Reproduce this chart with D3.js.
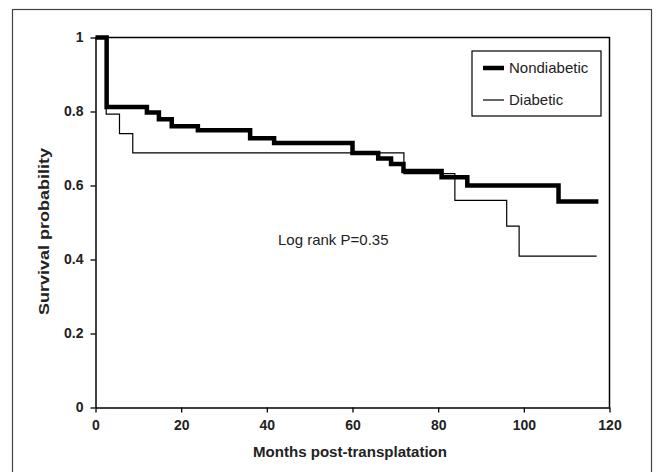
<!DOCTYPE html>
<html>
<head>
<meta charset="utf-8">
<script src="https://cdn.jsdelivr.net/npm/d3@7"></script>
<style>
  body { margin: 0; background: #fff; }
  text { font-family: "Liberation Sans", Arial, sans-serif; fill: #222; }
</style>
</head>
<body>
<script>
var w = 658;
var h = 472;

// Kaplan-Meier steps (months, survival)
var nondiabeticTimes = [0, 2.6, 12, 14.8, 17.8, 23.9, 36.1, 41.7, 60, 66, 69, 71.9, 80.8, 86.8, 108.1];
var nondiabeticSurv  = [1, 0.812, 0.797, 0.779, 0.760, 0.749, 0.728, 0.715, 0.688, 0.673, 0.658, 0.639, 0.622, 0.600, 0.557];
var nondiabeticEnd = 117.4;

var diabeticTimes = [0, 2.5, 5.6, 8.7, 72, 83.9, 96, 98.9];
var diabeticSurv  = [1, 0.793, 0.740, 0.688, 0.632, 0.560, 0.490, 0.409];
var diabeticEnd = 117;

var xTicks = [0, 20, 40, 60, 80, 100, 120];
var yTicks = [0, 0.2, 0.4, 0.6, 0.8, 1];
var seriesNames = ["Nondiabetic", "Diabetic"];

var svg = d3.select("body").append("svg")
    .attr("width", w)
    .attr("height", h);

// outer frame (bottom edge runs off the picture)
svg.append("rect")
    .attr("x", 12.5).attr("y", 9.5)
    .attr("width", 639).attr("height", 480)
    .attr("fill", "none")
    .attr("stroke", "#444")
    .attr("stroke-width", 1.2);

var x = d3.scaleLinear().domain([0, 120]).range([95.5, 609.5]);
var y = d3.scaleLinear().domain([0, 1]).range([407.5, 37.5]);

// plot box (top + right)
svg.append("path")
    .attr("d", "M" + x(0) + "," + y(1) + "H" + x(120) + "V" + y(0))
    .attr("fill", "none")
    .attr("stroke", "#000")
    .attr("stroke-width", 1.5);

var xAxis = svg.append("g")
    .attr("transform", "translate(0," + y(0) + ")")
    .call(d3.axisBottom(x).tickValues(xTicks).tickSize(5).tickSizeOuter(0).tickFormat(d3.format("d")));

var yAxis = svg.append("g")
    .attr("transform", "translate(" + x(0) + ",0)")
    .call(d3.axisLeft(y).tickValues(yTicks).tickSize(5).tickSizeOuter(0).tickFormat(function(d) { return d === 0 || d === 1 ? d : d3.format(".1f")(d); }));

[xAxis, yAxis].forEach(function(a) {
    a.select(".domain").attr("stroke", "#000").attr("stroke-width", 1.5);
    a.selectAll(".tick line").attr("stroke", "#000").attr("stroke-width", 1.3);
    a.selectAll(".tick text")
        .attr("font-family", "Liberation Sans, Arial, sans-serif")
        .attr("font-size", "14px")
        .attr("font-weight", "bold")
        .attr("fill", "#222");
});
xAxis.selectAll(".tick text").attr("dy", "1.02em");
yAxis.selectAll(".tick text").attr("x", -12);

function steps(times, surv, end) {
    var pts = times.map(function(t, i) { return [t, surv[i]]; });
    pts.push([end, surv[surv.length - 1]]);
    return pts;
}

var line = d3.line()
    .x(function(d) { return x(d[0]); })
    .y(function(d) { return y(d[1]); })
    .curve(d3.curveStepAfter);

svg.append("path")
    .datum(steps(diabeticTimes, diabeticSurv, diabeticEnd))
    .attr("d", line)
    .attr("fill", "none")
    .attr("stroke", "#000")
    .attr("stroke-width", 1.2);

svg.append("path")
    .datum(steps(nondiabeticTimes, nondiabeticSurv, nondiabeticEnd))
    .attr("d", line)
    .attr("fill", "none")
    .attr("stroke", "#000")
    .attr("stroke-width", 4.5);

// axis titles
svg.append("text")
    .attr("x", 253)
    .attr("y", 457)
    .attr("font-size", "14px")
    .attr("font-weight", "bold")
    .attr("textLength", 194)
    .attr("lengthAdjust", "spacingAndGlyphs")
    .text("Months post-transplatation");

svg.append("text")
    .attr("transform", "translate(49,315) rotate(-90)")
    .attr("font-size", "15.5px")
    .attr("font-weight", "bold")
    .attr("textLength", 167)
    .attr("lengthAdjust", "spacingAndGlyphs")
    .text("Survival probability");

// annotation
svg.append("text")
    .attr("x", 278)
    .attr("y", 245)
    .attr("font-size", "15px")
    .text("Log rank P=0.35");

// legend
var legend = svg.append("g");
legend.append("rect")
    .attr("x", 472).attr("y", 51)
    .attr("width", 129).attr("height", 65)
    .attr("fill", "#fff")
    .attr("stroke", "#000")
    .attr("stroke-width", 1.2);

legend.selectAll("line.key")
    .data(seriesNames)
    .enter()
    .append("line")
    .attr("class", "key")
    .attr("x1", 483).attr("x2", 504)
    .attr("y1", function(d, i) { return 68 + i * 32; })
    .attr("y2", function(d, i) { return 68 + i * 32; })
    .attr("stroke", "#000")
    .attr("stroke-width", function(d, i) { return i === 0 ? 4.5 : 1.2; });

legend.selectAll("text")
    .data(seriesNames)
    .enter()
    .append("text")
    .attr("x", 509)
    .attr("y", function(d, i) { return 73 + i * 32; })
    .attr("font-size", "15px")
    .text(function(d) { return d; });
</script>
</body>
</html>
